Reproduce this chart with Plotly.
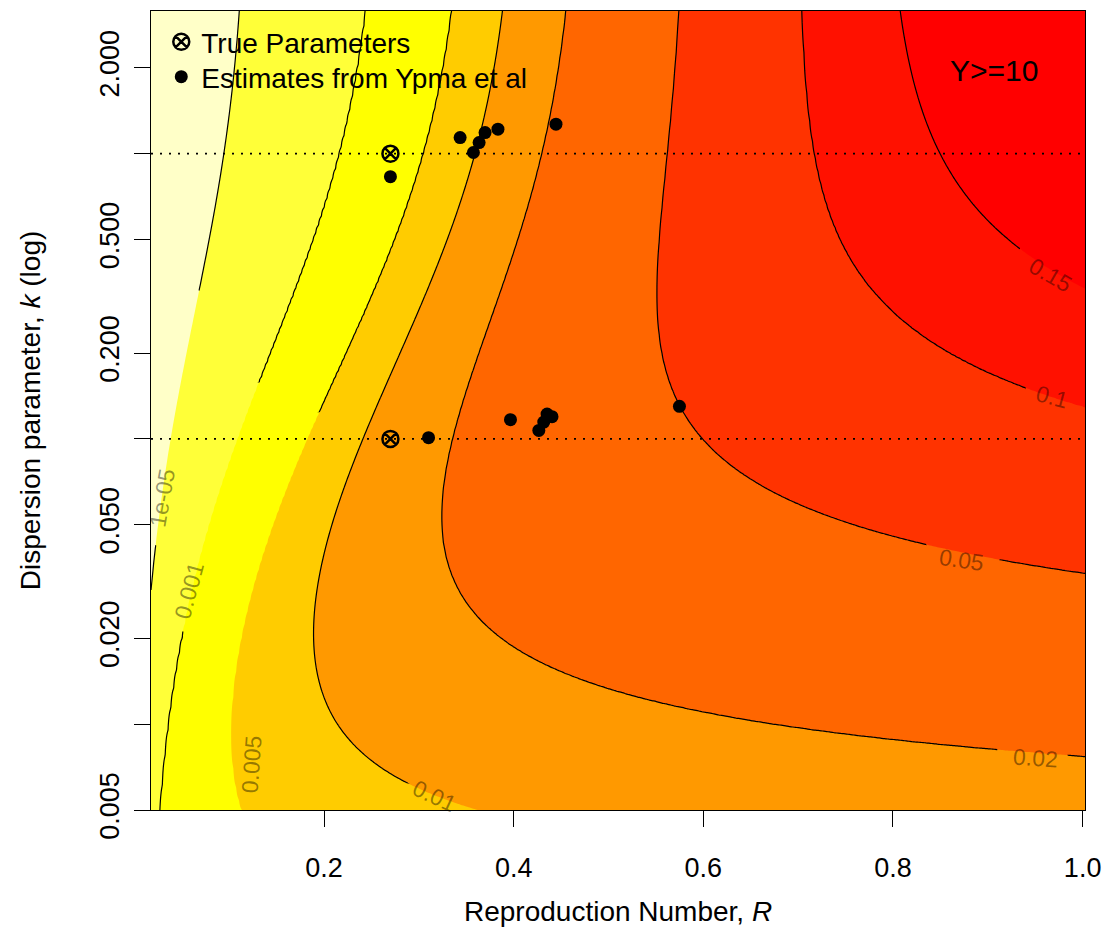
import math
import numpy as np
import plotly.graph_objects as go

# ---------------- data ----------------
# contour levels of the cluster-size tail probability and their printed labels
contour_levels = [1e-05, 0.001, 0.005, 0.01, 0.02, 0.05, 0.1, 0.15]
contour_labels = ["1e-05", "0.001", "0.005", "0.01", "0.02", "0.05", "0.1", "0.15"]
cluster_threshold = 8  # tail threshold that reproduces the drawn contour positions

# parameter grid (reproduction number R, dispersion k)
R_limits = [0.0175, 1.0025]
k_log10_limits = [math.log10(0.005), 0.5]

# true parameters (crossed circles)
true_R = [0.27, 0.27]
true_k = [1.0, 0.1]

# estimates from Ypma et al (filled dots)
est_R = [0.270, 0.3435, 0.3575, 0.3635, 0.3698, 0.3834, 0.4446,
         0.3102, 0.3966, 0.4265, 0.4317, 0.4352, 0.4404, 0.5748]
est_k = [0.830, 1.138, 1.009, 1.093, 1.185, 1.218, 1.268,
         0.1010, 0.1168, 0.1071, 0.1145, 0.1222, 0.1196, 0.1301]

# dotted reference lines at the true k values
ref_k = [1.0, 0.1]

x_tickvals = [0.2, 0.4, 0.6, 0.8, 1.0]
x_ticktext = ["0.2", "0.4", "0.6", "0.8", "1.0"]
y_tickvals = [0.005, 0.01, 0.02, 0.05, 0.1, 0.2, 0.5, 1, 2]
y_ticktext = ["0.005", "", "0.020", "0.050", "", "0.200", "0.500", "", "2.000"]

# ---------------- styles ----------------
band_colors = ["#FFFFC8", "#FFFF38", "#FFFF00", "#FFCC00", "#FF9900",
               "#FF6600", "#FF3300", "#FF1100", "#FF0000"]
FONT = "Liberation Sans, Arial, Helvetica, sans-serif"

# label placement (R, k, angle) for contour labels
label_pos = {
    "1e-05": (0.0289, 0.0623, -80),
    "0.001": (0.0572, 0.0294, -75),
    "0.005": (0.1234, 0.00726, -86),
    "0.01": (0.3165, 0.0056, 25),
    "0.02": (0.950, 0.00760, 4),
    "0.05": (0.872, 0.0375, 8),
    "0.1": (0.968, 0.140, 15),
    "0.15": (0.966, 0.375, 30),
}
# parts of each contour line that are not drawn (label gaps / covered parts):
# level label -> (R_min, R_max, k_min, k_max)
line_gaps = {
    "1e-05": (0.0, 1.1, 0.043, 0.33),
    "0.001": (0.0, 1.1, 0.0215, 0.156),
    "0.005": (0.0, 1.1, 0.0, 0.124),
    "0.01": (0.28, 1.1, 0.0, 0.0062),
    "0.02": (0.911, 0.984, 0.0, 1.0),
    "0.05": (0.836, 0.911, 0.0, 1.0),
    "0.1": (0.941, 1.1, 0.0, 1.0),
    "0.15": (0.936, 1.1, 0.0, 10.0),
}

# ---------------- model surface ----------------
R_grid = np.linspace(R_limits[0], R_limits[1], 330)
k_grid = 10 ** np.linspace(k_log10_limits[0], k_log10_limits[1], 270)
RR, KK = np.meshgrid(R_grid, k_grid)


def tail_prob(R, k, n):
    """P(total cluster size >= n) for a negative-binomial branching process."""
    rk = R / k
    acc = np.zeros_like(R)
    for y in range(1, n):
        ky = k * y
        logc = np.zeros_like(R)
        for j in range(y - 1):
            logc = logc + np.log(ky + j)
        logc = logc - math.lgamma(y + 1)
        logp = logc + (y - 1) * np.log(rk) - (ky + y - 1) * np.log1p(rk)
        acc = acc + np.exp(logp)
    return np.clip(1.0 - acc, 1e-16, 1.0)


Z = tail_prob(RR, KK, cluster_threshold)

# map onto level index so that non-uniform levels become uniform contours
lv = np.log10(np.array(contour_levels))
lz = np.log10(Z)
idx = np.arange(1, len(lv) + 1, dtype=float)
ZT = np.interp(lz, lv, idx)
lo = lz < lv[0]
ZT[lo] = 1 + (lz[lo] - lv[0]) / (lv[1] - lv[0])
hi = lz > lv[-1]
ZT[hi] = len(lv) + (lz[hi] - lv[-1]) / (lv[-1] - lv[-2])
ZT = np.round(ZT, 4)

# lines surface with gaps
ZL = ZT.copy()
for i, lab in enumerate(contour_labels):
    r0, r1, k0, k1 = line_gaps[lab]
    m = (np.abs(ZT - (i + 1)) < 0.5) & (RR >= r0) & (RR <= r1) & (KK >= k0) & (KK <= k1)
    ZL[m] = np.nan

nb = len(band_colors)
colorscale = [[i / (nb - 1), c] for i, c in enumerate(band_colors)]

fig = go.Figure()
fig.add_trace(go.Contour(
    x=R_grid, y=k_grid, z=ZT,
    autocontour=False,
    contours=dict(start=1, end=len(lv), size=1, coloring="fill", showlines=False),
    colorscale=colorscale, showscale=False, line=dict(width=0),
    hoverinfo="skip", showlegend=False,
))
fig.add_trace(go.Contour(
    x=R_grid, y=k_grid, z=ZL, connectgaps=False,
    autocontour=False,
    contours=dict(start=1, end=len(lv), size=1, coloring="none", showlines=True),
    showscale=False,
    line=dict(color="black", width=1.2, smoothing=1),
    hoverinfo="skip", showlegend=False,
))

for kv in ref_k:
    fig.add_trace(go.Scatter(
        x=R_limits, y=[kv, kv], mode="lines",
        line=dict(color="black", width=1.6, dash="2px,7px"),
        showlegend=False, hoverinfo="skip",
    ))

fig.add_trace(go.Scatter(
    x=true_R, y=true_k, mode="markers", name="True Parameters", legend="legend",
    marker=dict(symbol="circle-x-open", size=16, color="black",
                line=dict(color="black", width=2.5)),
))
fig.add_trace(go.Scatter(
    x=est_R, y=est_k, mode="markers", name="Estimates from Ypma et al", legend="legend2",
    marker=dict(symbol="circle", size=13, color="black"),
))

annotations = []
for lab in contour_labels:
    r, k, ang = label_pos[lab]
    annotations.append(dict(
        x=r, y=math.log10(k), xref="x", yref="y", text=lab, showarrow=False,
        xanchor="center", yanchor="middle",
        textangle=ang, font=dict(family=FONT, size=23, color="rgba(0,0,0,0.42)"),
    ))
annotations.append(dict(
    x=0.9025, y=0.926, xref="paper", yref="paper", text="Y>=10", showarrow=False,
    xanchor="center", yanchor="middle",
    font=dict(family=FONT, size=30, color="black"),
))
annotations.append(dict(
    x=0.5, y=-0.1276, xref="paper", yref="paper", showarrow=False,
    xanchor="center", yanchor="middle",
    text="Reproduction Number, <i>R</i>", font=dict(family=FONT, size=28, color="black"),
))
annotations.append(dict(
    x=-0.1288, y=0.5, xref="paper", yref="paper", showarrow=False, textangle=-90,
    xanchor="center", yanchor="middle",
    text="Dispersion parameter, <i>k</i> (log)", font=dict(family=FONT, size=28, color="black"),
))

legend_style = dict(xanchor="left", yanchor="top", bgcolor="rgba(0,0,0,0)",
                    font=dict(family=FONT, size=28, color="black"))

fig.update_layout(
    width=1111, height=942, autosize=False,
    margin=dict(l=151, r=20, t=10, b=132),
    paper_bgcolor="white", plot_bgcolor="white",
    font=dict(family=FONT, size=27, color="black"),
    annotations=annotations,
    legend=dict(x=0.011, y=0.9925, **legend_style),
    legend2=dict(x=0.011, y=0.9487, **legend_style),
    xaxis=dict(range=R_limits, tickvals=x_tickvals, ticktext=x_ticktext,
               ticks="outside", ticklen=16, tickwidth=1.2, tickcolor="black",
               showline=True, mirror=True, linecolor="black", linewidth=1.2,
               showgrid=False, zeroline=False, ticklabelstandoff=17),
    yaxis=dict(type="log", range=k_log10_limits, tickvals=y_tickvals, ticktext=y_ticktext,
               tickangle=-90, ticks="outside", ticklen=16, tickwidth=1.2, tickcolor="black",
               showline=True, mirror=True, linecolor="black", linewidth=1.2,
               showgrid=False, zeroline=False, ticklabelstandoff=4),
)

fig.write_html("out.html")
